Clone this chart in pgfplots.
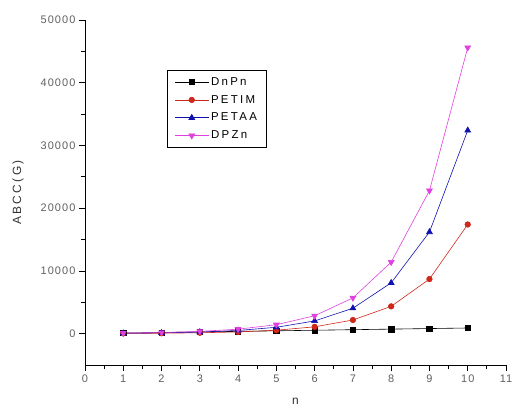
\documentclass[border=0pt]{standalone}
\usepackage{fontspec}
\setmainfont{Liberation Sans}[LetterSpace=10]
\newfontfamily\widefont{Liberation Sans}[LetterSpace=20]
\usepackage{pgfplots}
\pgfplotsset{compat=1.18}

\definecolor{tickgray}{HTML}{606060}
\definecolor{cPETIM}{HTML}{D02818}
\definecolor{cPETAA}{HTML}{1010B0}
\definecolor{cDPZn}{HTML}{E040E0}

\begin{document}
\begin{tikzpicture}
\begin{axis}[
    at={(0,0)}, anchor=south west,
    scale only axis, width=421bp, height=345bp,
    xmin=0, xmax=11, ymin=-5000, ymax=50000,
    axis x line*=bottom, axis y line*=left,
    axis line style={line width=0.9pt},
    xtick={0,1,...,11}, minor x tick num=1,
    ytick={0,10000,...,50000}, minor y tick num=1,
    tick align=outside,
    major tick length=6bp, minor tick length=4bp,
    every tick/.style={black, line width=0.8pt},
    scaled y ticks=false,
    /pgf/number format/assume math mode=true,
    /pgf/number format/set thousands separator={},
    tick label style={font=\fontsize{11}{12}\selectfont, text=tickgray},
    xlabel={n}, ylabel={ABCC(G)},
    label style={font=\widefont\fontsize{12}{14}\selectfont, text=black!80},
    xlabel style={at={(axis description cs:0.5,-0.106)}, anchor=center},
    ylabel style={at={(axis description cs:-0.159,0.5)}, anchor=center, rotate=0},
    legend style={at={(axis description cs:0.195,0.855)}, anchor=north west,
        draw=black, line width=0.8pt, font=\widefont\fontsize{11.5}{13}\selectfont,
        row sep=4.5pt, inner xsep=7pt, inner ysep=5pt},
    legend cell align=left,
    legend image code/.code={%
        \draw[mark repeat=2,mark phase=2,line width=0.6pt]
        plot coordinates {(0bp,0bp)(17bp,0bp)(34bp,0bp)};},
    every axis plot/.append style={line width=0.6pt},
]
\addplot[black, mark=square*, mark size=2.7pt] coordinates
  {(1,90)(2,180)(3,270)(4,360)(5,450)(6,540)(7,630)(8,720)(9,810)(10,900)};
\addlegendentry{DnPn}
\addplot[cPETIM, mark=*, mark size=2.8pt] coordinates
  {(1,34)(2,68)(3,136)(4,272)(5,544)(6,1087)(7,2175)(8,4350)(9,8700)(10,17400)};
\addlegendentry{PETIM}
\addplot[cPETAA, mark=triangle*, mark size=3.4pt] coordinates
  {(1,63)(2,126)(3,253)(4,506)(5,1012)(6,2025)(7,4050)(8,8100)(9,16200)(10,32400)};
\addlegendentry{PETAA}
\addplot[cDPZn, mark=triangle*, mark options={rotate=180}, mark size=3.4pt] coordinates
  {(1,89)(2,178)(3,356)(4,712)(5,1425)(6,2850)(7,5700)(8,11400)(9,22800)(10,45600)};
\addlegendentry{DPZn}
\end{axis}
\pgfresetboundingbox
\useasboundingbox (-85bp,-45bp) rectangle (431bp,365bp);
\end{tikzpicture}
\end{document}
